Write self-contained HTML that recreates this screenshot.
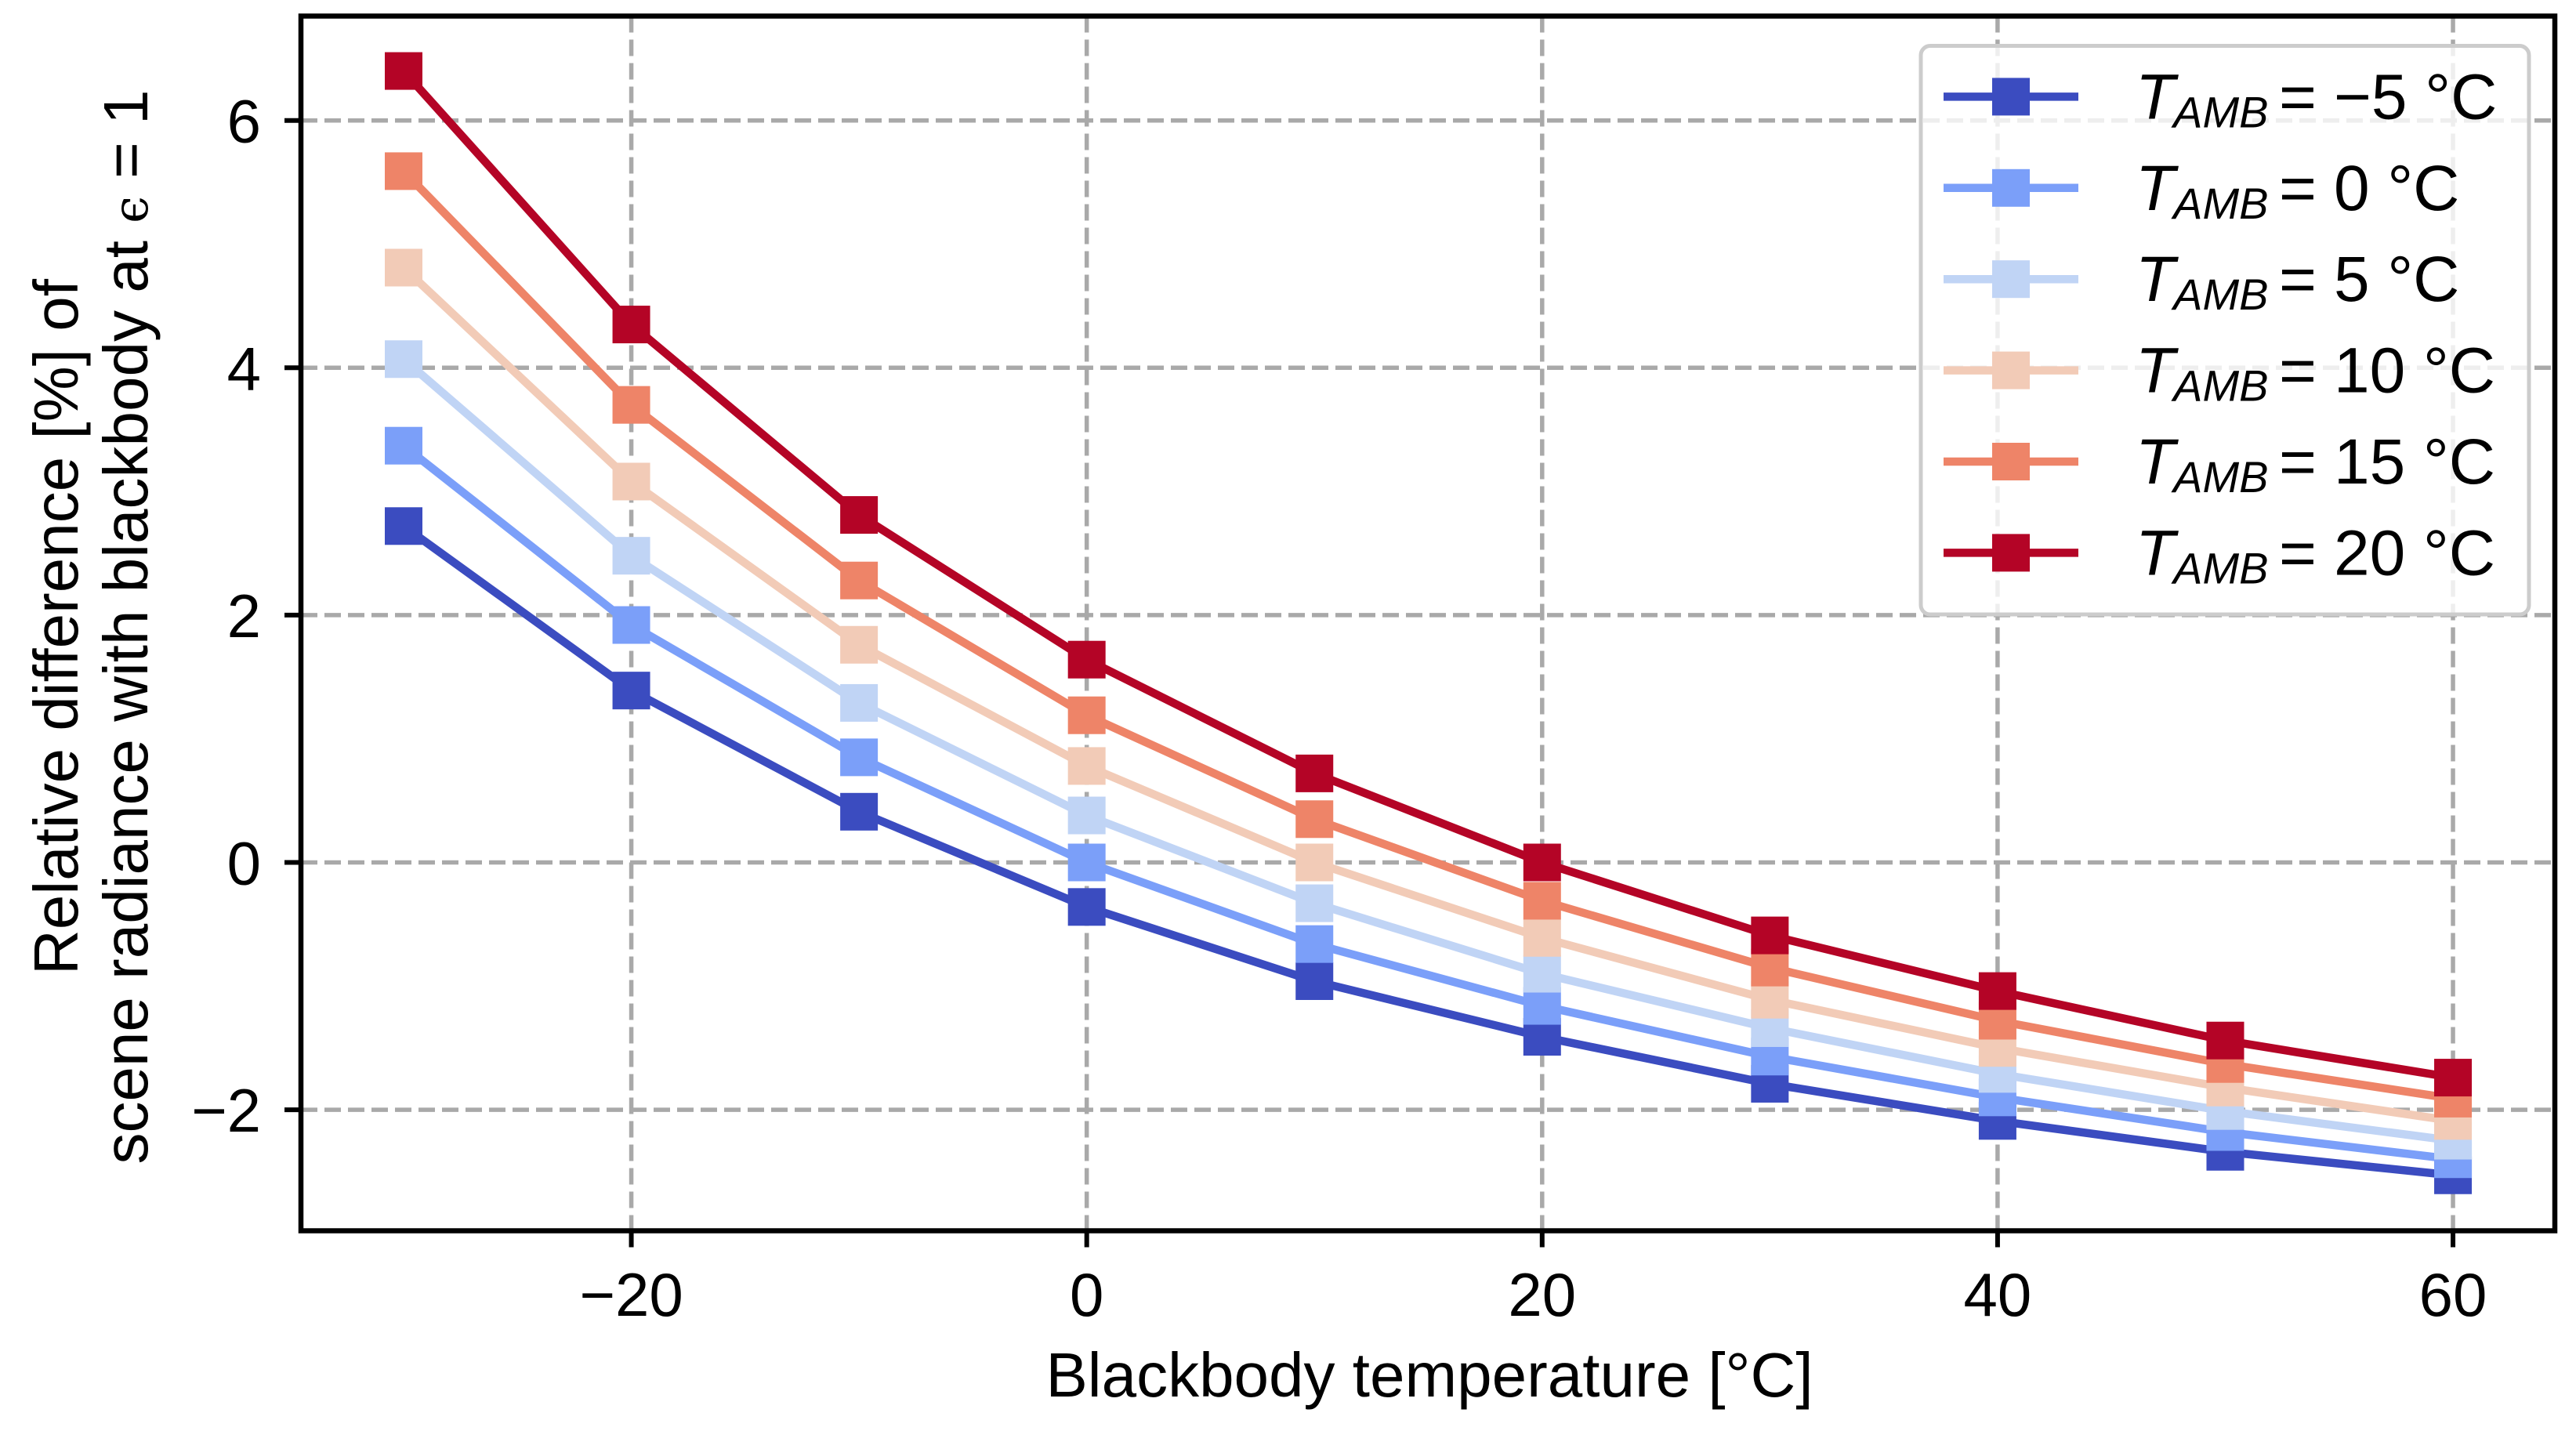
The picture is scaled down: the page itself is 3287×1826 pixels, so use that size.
<!DOCTYPE html>
<html><head><meta charset="utf-8"><style>
html,body{margin:0;padding:0;background:#fff;}
svg{display:block;font-family:"Liberation Sans",Arial,sans-serif;}
</style></head><body>
<svg id="chart" width="3287" height="1826" viewBox="0 0 3287 1826" xmlns="http://www.w3.org/2000/svg">
<rect width="3287" height="1826" fill="#fff"/>
<g id="grid"></g>
<g id="series"></g>
<rect x="384" y="20.5" width="2876" height="1550" fill="none" stroke="#000" stroke-width="6.5"/>
<g id="ticks"></g>
<text x="1824" y="1782" font-size="80" text-anchor="middle">Blackbody temperature [°C]</text>
<g transform="translate(0,800) rotate(-90)">
<text x="0" y="99" font-size="80" text-anchor="middle">Relative difference [%] of</text>
<text x="0" y="188" font-size="80" text-anchor="middle">scene radiance with blackbody at <tspan font-size="62" font-family="DejaVu Serif, serif">ϵ</tspan> = 1</text>
</g>
<g id="legend"></g>
</svg>
<script>
const xValues = [-30, -20, -10, 0, 10, 20, 30, 40, 50, 60];
const seriesM5 = [2.72, 1.39, 0.41, -0.36, -0.96, -1.41, -1.79, -2.09, -2.34, -2.53];
const series0 = [3.37, 1.92, 0.85, 0.00, -0.66, -1.16, -1.57, -1.90, -2.18, -2.40];
const series5 = [4.07, 2.48, 1.29, 0.38, -0.33, -0.90, -1.34, -1.71, -2.01, -2.25];
const series10 = [4.81, 3.08, 1.76, 0.78, 0.00, -0.61, -1.11, -1.50, -1.82, -2.09];
const series15 = [5.59, 3.70, 2.28, 1.19, 0.35, -0.31, -0.85, -1.28, -1.63, -1.91];
const series20 = [6.40, 4.35, 2.81, 1.64, 0.72, 0.00, -0.59, -1.04, -1.44, -1.74];
const seriesLabels = ["−5", "0", "5", "10", "15", "20"];
const xTicks = [-20, 0, 20, 40, 60];
const yTicks = [-2, 0, 2, 4, 6];

const NS = "http://www.w3.org/2000/svg";
const colors = ["#3b4cc0", "#7b9ff9", "#c0d4f5", "#f2cbb7", "#ee8468", "#b40426"];
const allSeries = [seriesM5, series0, series5, series10, series15, series20];
const X0 = 384, X1 = 3260, Y0 = 20.5, Y1 = 1570.5;
function xs(v){ return 515 + (v + 30) * 29.056; }
function ys(v){ return 1100.5 - v * 157.8; }
function mk(tag, attrs, parent){ const e = document.createElementNS(NS, tag); for (const k in attrs) e.setAttribute(k, attrs[k]); parent.appendChild(e); return e; }
function fmt(v){ return v < 0 ? "−" + Math.abs(v) : String(v); }

const grid = document.getElementById('grid');
const ticks = document.getElementById('ticks');
xTicks.forEach(t => {
  const x = xs(t);
  const g = mk('line', {x1:x, x2:x, y1:Y0, y2:Y1, stroke:'#a9a9a9', 'stroke-width':5.5, 'stroke-dasharray':'21 9'}, grid);
  
  
  const tk = mk('line', {x1:x, x2:x, y1:Y1, y2:Y1+21, stroke:'#000', 'stroke-width':6}, ticks);
  
  
  const lb = mk('text', {x:x, y:1679, 'font-size':78, 'text-anchor':'middle'}, ticks);
  lb.textContent = fmt(t);
  
  
});
yTicks.forEach(t => {
  const y = ys(t);
  const g = mk('line', {x1:X0, x2:X1, y1:y, y2:y, stroke:'#a9a9a9', 'stroke-width':5.5, 'stroke-dasharray':'21 9'}, grid);
  
  
  const tk = mk('line', {x1:X0-21, x2:X0, y1:y, y2:y, stroke:'#000', 'stroke-width':6}, ticks);
  
  
  const lb = mk('text', {x:333, y:y+28, 'font-size':78, 'text-anchor':'end'}, ticks);
  lb.textContent = fmt(t);
  
  
});

const sg = document.getElementById('series');
allSeries.forEach((s, i) => {
  const g = mk('g', {}, sg);
  
  
  const pts = s.map((v, j) => xs(xValues[j]) + ',' + ys(v)).join(' ');
  const pl = mk('polyline', {points:pts, fill:'none', stroke:colors[i], 'stroke-width':10.5, 'stroke-linejoin':'miter'}, g);
  
  
  s.forEach((v, j) => {
    const r = mk('rect', {x:xs(xValues[j])-24, y:ys(v)-24, width:48, height:48, fill:colors[i]}, g);
    
    
  });
});

const lg = document.getElementById('legend');
const box = mk('rect', {x:2451, y:58.5, width:776, height:725.5, rx:12, fill:'#fff', 'fill-opacity':0.8, stroke:'#cccccc', 'stroke-width':5}, lg);


seriesLabels.forEach((lab, i) => {
  const cy = 123.4 + i * 116.4;
  const g = mk('g', {}, lg);
  
  
  mk('line', {x1:2480, x2:2652, y1:cy, y2:cy, stroke:colors[i], 'stroke-width':10.5}, g);
  mk('rect', {x:2566-24, y:cy-24, width:48, height:48, fill:colors[i]}, g);
  const t = mk('text', {x:2725, y:cy+28, 'font-size':82}, g);
  const t1 = mk('tspan', {'font-style':'italic'}, t); t1.textContent = 'T';
  const t2 = mk('tspan', {'font-style':'italic', 'font-size':56, dy:11, dx:-2}, t); t2.textContent = 'AMB';
  const eq = mk('text', {x:2908, y:cy+28, 'font-size':82}, g);
  eq.textContent = '=';
  const val = mk('text', {x:2978, y:cy+28, 'font-size':82}, g);
  val.textContent = lab + ' °C';
});
</script>
</body></html>
